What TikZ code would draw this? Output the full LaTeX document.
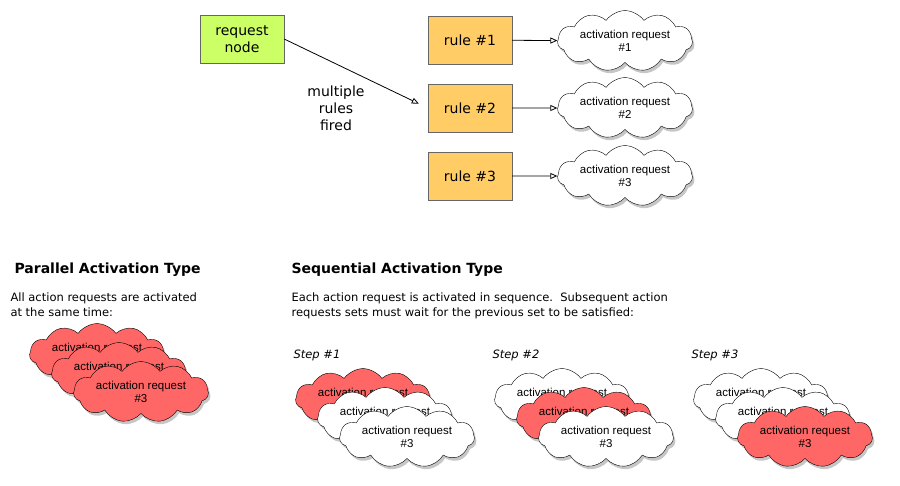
\documentclass[tikz,border=0pt]{standalone}
\usepackage{fontspec}
\setmainfont{DejaVu Sans}
\newfontfamily\cloudfont{Liberation Sans}
\usetikzlibrary{arrows.meta,shapes.symbols,shadows,positioning}

\definecolor{reqgreen}{RGB}{204,255,102}
\definecolor{ruleorange}{RGB}{255,204,102}
\definecolor{actred}{RGB}{255,102,102}

\tikzset{
  box/.style={draw=black!60, minimum width=84pt, minimum height=48pt,
    align=center, font=\fontsize{14}{17}\selectfont,
    drop shadow={shadow xshift=1pt,shadow yshift=-1pt,opacity=0.3}},
  actcloud/.style={cloud, cloud puffs=11, cloud puff arc=110, aspect=2.9,
    draw, fill=white, inner sep=0pt, minimum width=135pt, minimum height=47pt,
    align=center, font=\cloudfont\fontsize{11.5}{13}\selectfont,
    drop shadow={shadow xshift=2pt,shadow yshift=-3pt,opacity=0.45}},
  heading/.style={anchor=west, font=\bfseries\fontsize{14}{16}\selectfont},
  para/.style={anchor=north west, align=left, font=\fontsize{11.5}{15}\selectfont},
  steplabel/.style={anchor=west, font=\itshape\fontsize{11.5}{14}\selectfont},
  open arrow/.style={line width=0.8pt, -{Triangle[open,length=7pt,width=6pt]}}
}

\begin{document}
\begin{tikzpicture}[x=1pt,y=-1pt]
  \useasboundingbox (0,0) rectangle (900,485);

  % top part
  \node[box, fill=reqgreen] (req) at (242,39) {request\\node};
  \node[box, fill=ruleorange] (r1) at (470,40) {rule \#1};
  \node[box, fill=ruleorange] (r2) at (470,108) {rule \#2};
  \node[box, fill=ruleorange] (r3) at (470,176) {rule \#3};
  \node[actcloud] (c1) at (625,41) {activation request\\\#1};
  \node[actcloud] (c2) at (625,108) {activation request\\\#2};
  \node[actcloud] (c3) at (625,176) {activation request\\\#3};
  \draw[open arrow, shorten >=10pt] (req.east) -- (r2.west);
  \node[align=center, font=\fontsize{14}{17}\selectfont] (fired) at (336,108) {multiple\\rules\\fired};
  \foreach \i in {1,2,3}
    \draw[open arrow] (r\i) -- (c\i);

  % parallel
  \node[heading] (ptitle) at (11,270) {Parallel Activation Type};
  \node[para] (ptext) at (7,289) {All action requests are activated\\at the same time:};
  \node[actcloud, fill=actred] (p1) at (97,354) {activation request\\\#1};
  \node[actcloud, fill=actred] (p2) at (119,373) {activation request\\\#2};
  \node[actcloud, fill=actred] (p3) at (141,392) {activation request\\\#3};

  % sequential
  \node[heading] (stitle) at (288,270) {Sequential Activation Type};
  \node[para] (stext) at (288,289) {Each action request is activated in sequence.\ \ Subsequent action\\requests sets must wait for the previous set to be satisfied:};
  \foreach \s/\x/\fa/\fb/\fc in {1/363/actred/white/white,2/562/white/actred/white,3/761/white/white/actred}{
    \node[steplabel] (step\s) at (\x-73,355) {Step \#\s};
    \node[actcloud, fill=\fa] (s\s a) at (\x,399) {activation request\\\#1};
    \node[actcloud, fill=\fb] (s\s b) at (\x+22,418) {activation request\\\#2};
    \node[actcloud, fill=\fc] (s\s c) at (\x+44,437) {activation request\\\#3};
  }
\end{tikzpicture}
\end{document}
